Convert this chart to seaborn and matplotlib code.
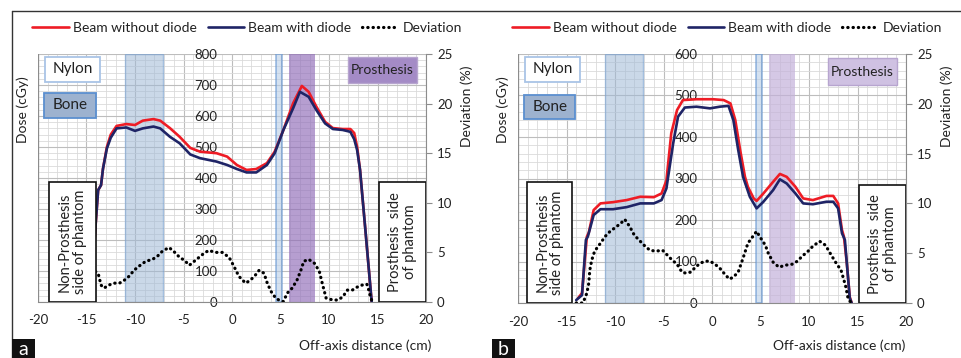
import numpy as np
import pandas as pd
import matplotlib
matplotlib.use("Agg")
import matplotlib.pyplot as plt
import seaborn as sns
from matplotlib.patches import Rectangle
from matplotlib.lines import Line2D
from matplotlib.ticker import MultipleLocator
from matplotlib import font_manager

# ---------------- data ----------------
# Panel a
a_red_x = [-14.6, -14.1, -13.8, -13.5, -13.3, -12.9, -12.5, -11.9, -10.9, -10.0, -9.2, -8.1, -7.4, -6.4,
           -5.4, -4.3, -3.3, -1.6, -0.5, 0.5, 1.5, 2.5, 3.6, 4.4, 5.3, 6.3, 7.2, 7.9, 8.7, 9.6, 10.4,
           11.4, 12.2, 12.6, 12.9, 13.2, 13.8, 14.4]
a_red_y = [0, 232, 361, 377, 430, 500, 540, 568, 574, 571, 585, 590, 585, 561,
           533, 497, 485, 480, 469, 442, 426, 429, 448, 485, 555, 641, 697, 678, 630, 581, 561,
           558, 558, 545, 500, 426, 215, 0]
a_blue_x = [-14.6, -14.1, -13.8, -13.5, -13.3, -12.9, -12.5, -11.9, -10.9, -10.0, -9.2, -8.1, -7.4, -6.4,
            -5.4, -4.3, -3.3, -1.6, -0.5, 0.5, 1.5, 2.5, 3.6, 4.4, 5.3, 6.3, 7.0, 7.9, 8.7, 9.6, 10.4,
            11.4, 12.2, 12.6, 12.9, 13.2, 13.8, 14.4]
a_blue_y = [0, 232, 361, 377, 430, 495, 530, 560, 563, 552, 560, 566, 560, 533,
            512, 476, 464, 453, 442, 429, 418, 418, 442, 480, 555, 625, 678, 662, 619, 576, 558,
            555, 549, 525, 490, 426, 215, 0]
a_dev_x = [-14.6, -14.4, -14.3, -14.1, -13.8, -13.5, -13.2, -12.7, -12.2, -11.6, -11.1, -10.6, -10.1, -9.6,
           -8.9, -8.2, -7.7, -7.2, -6.5, -6.0, -5.4, -4.9, -4.4, -3.9, -3.4, -2.9, -2.4, -1.7, -1.0,
           -0.3, 0.2, 0.7, 1.4, 1.9, 2.4, 2.8, 3.3, 3.6, 4.0, 4.5, 5.0, 5.3, 5.7, 6.2, 6.7, 7.1, 7.4,
           7.9, 8.5, 9.0, 9.3, 9.7, 10.4, 10.9, 11.4, 11.9, 12.4, 12.9, 13.4, 13.9, 14.1, 14.3, 14.5]
a_dev_y = [0.0, 1.5, 2.6, 3.1, 2.9, 1.7, 1.4, 1.7, 1.9, 1.9, 2.2, 2.6, 3.2, 3.6,
           4.1, 4.3, 4.6, 5.1, 5.5, 5.1, 4.5, 4.2, 3.7, 4.1, 4.5, 4.9, 5.2, 5.0, 5.0,
           4.5, 3.6, 2.6, 1.9, 2.2, 2.7, 3.2, 2.9, 2.0, 1.1, 0.4, 0.1, 0.05, 0.9, 1.4, 2.2, 3.2, 4.1,
           4.3, 3.9, 3.1, 1.9, 0.4, 0.2, 0.2, 0.5, 1.2, 1.2, 1.5, 1.7, 1.8, 1.2, 0.4, 0.0]

# Panel b
b_red_x = [-13.8, -13.4, -12.9, -12.7, -12.2, -11.5, -10.2, -8.8, -7.4, -6.0, -5.2, -4.7, -4.2, -3.6,
           -3.0, -1.6, 0.1, 1.2, 1.9, 2.4, 2.9, 3.4, 3.7, 4.3, 4.6, 5.3, 6.3, 7.0, 7.7, 8.6, 9.4,
           10.4, 11.8, 12.5, 13.0, 13.4, 13.6, 13.9, 14.2, 14.4]
b_red_y = [12, 24, 160, 170, 224, 240, 243, 248, 256, 255, 264, 295, 409, 465,
           489, 491, 491, 489, 481, 441, 369, 304, 280, 252, 246, 264, 292, 311, 304, 280, 252,
           248, 258, 258, 240, 176, 160, 96, 15, 0]
b_blue_x = [-14.0, -13.4, -13.0, -12.8, -12.2, -11.5, -10.2, -8.8, -7.4, -6.0, -5.2, -4.7, -4.0, -3.5,
            -2.8, -1.6, -0.2, 0.8, 1.7, 2.2, 2.7, 3.2, 3.9, 4.6, 5.3, 6.3, 7.0, 7.7, 8.6, 9.4,
            10.4, 11.8, 12.5, 13.0, 13.4, 13.7, 13.9, 14.2, 14.4]
b_blue_y = [7, 19, 152, 160, 212, 226, 226, 231, 240, 240, 248, 276, 385, 449,
            471, 473, 469, 473, 475, 441, 369, 304, 256, 228, 244, 272, 298, 288, 264, 240,
            238, 244, 244, 228, 168, 152, 96, 12, 0]
b_dev_x = [-14.0, -13.3, -12.9, -12.7, -12.6, -12.4, -12.1, -11.5, -11.0, -10.5, -9.8, -9.3, -9.0, -8.5,
           -8.0, -7.4, -6.9, -6.4, -5.8, -5.1, -4.6, -4.1, -3.6, -3.1, -2.7, -2.2, -1.7, -1.2, -0.7,
           -0.2, 0.3, 0.8, 1.4, 1.8, 2.2, 2.7, 3.2, 3.7, 4.3, 4.6, 4.9, 5.5, 5.8, 6.3, 6.9, 7.6, 8.3,
           8.8, 9.3, 9.9, 10.4, 11.1, 11.7, 12.3, 12.8, 13.3, 13.6, 13.8, 14.0, 14.2, 14.4]
b_dev_y = [0.0, 0.0, 1.0, 2.0, 3.3, 4.3, 5.2, 6.0, 6.7, 7.2, 7.7, 8.1, 8.4, 7.7,
           6.8, 6.2, 5.7, 5.3, 5.2, 5.3, 4.8, 4.3, 3.9, 3.1, 3.0, 3.1, 3.6, 4.0, 4.2,
           4.2, 3.9, 3.5, 2.8, 2.4, 2.6, 3.1, 4.5, 6.0, 6.8, 7.2, 6.7, 5.8, 5.0, 4.1, 3.6, 3.8, 3.9,
           4.2, 4.7, 5.2, 5.7, 6.2, 5.8, 4.8, 4.0, 3.3, 2.3, 1.6, 0.6, 0.2, 0.0]

series_labels = ["Beam without diode", "Beam with diode", "Deviation"]
x_ticks = [-20, -15, -10, -5, 0, 5, 10, 15, 20]
dev_ticks = [0, 5, 10, 15, 20, 25]
dose_max = {"a": 800, "b": 600}

# ---------------- styling ----------------
sns.set_style("white")
plt.rcParams["font.family"] = ["Lato", "DejaVu Sans"]
installed = {f.name for f in font_manager.fontManager.ttflist}
NARROW = ["Liberation Sans Narrow", "Lato"] if "Liberation Sans Narrow" in installed else ["Lato"]

RED = "#ee1c25"
NAVY = "#1f2466"
TXT = "#222222"
FS = 9.5       # tick labels
FL = 10        # axis labels
FLEG = 10      # legend

fig = plt.figure(figsize=(9.61, 3.58), dpi=100)

panels = {
    "a": dict(rect=[38 / 961, 1 - 302 / 358, 388 / 961, 248 / 358],
              red=(a_red_x, a_red_y), blue=(a_blue_x, a_blue_y), dev=(a_dev_x, a_dev_y),
              purple="#8f6bb8", purple_alpha=0.65, pbox="#a48bc6",
              nylon=(-19.28, 710, 5.7, 80), bone=(-19.4, 594, 5.4, 80), pros=(11.96, 706, 7.1, 84),
              lbox=(-18.87, 0, 4.82, 387), rbox=(15.15, 0, 4.85, 387),
              xlab=(0.843, -0.152), tag_x=12),
    "b": dict(rect=[518 / 961, 1 - 303 / 358, 388 / 961, 249 / 358],
              red=(b_red_x, b_red_y), blue=(b_blue_x, b_blue_y), dev=(b_dev_x, b_dev_y),
              purple="#c4b1da", purple_alpha=0.7, pbox="#cfc1e2",
              nylon=(-19.28, 533, 5.7, 60), bone=(-19.35, 443, 5.25, 58), pros=(12.0, 525, 7.04, 65),
              lbox=(-19.07, 0, 4.64, 292), rbox=(15.15, 0, 4.85, 284),
              xlab=(0.827, -0.148), tag_x=492),
}

for key, p in panels.items():
    ax = fig.add_axes(p["rect"])
    ymax = dose_max[key]
    ax.set_xlim(-20, 20)
    ax.set_ylim(0, ymax)
    ax.set_axisbelow(True)

    # grid
    ax.xaxis.set_major_locator(MultipleLocator(5))
    ax.xaxis.set_minor_locator(MultipleLocator(1))
    ax.yaxis.set_major_locator(MultipleLocator(100))
    ax.yaxis.set_minor_locator(MultipleLocator(20))
    ax.grid(which="major", color="#bdbdbd", linewidth=0.8)
    ax.grid(which="minor", color="#dadada", linewidth=0.6)

    # shaded material regions
    ax.axvspan(-11.0, -7.15, facecolor="#9fb8d6", alpha=0.55, edgecolor="#6f9bd0", linewidth=1.0, zorder=1)
    ax.axvspan(4.5, 5.2, facecolor="#b8cde6", alpha=0.6, edgecolor="#5b8fcf", linewidth=1.2, zorder=1)
    ax.axvspan(5.9, 8.6, facecolor=p["purple"], alpha=p["purple_alpha"], edgecolor="none", zorder=1)

    # dose curves
    sns.lineplot(x=p["red"][0], y=p["red"][1], ax=ax, color=RED, linewidth=1.9, sort=False, zorder=3)
    sns.lineplot(x=p["blue"][0], y=p["blue"][1], ax=ax, color=NAVY, linewidth=1.9, sort=False, zorder=4)

    # spines / ticks of dose axis (Excel style, axis crossing at x = 0)
    for s in ["top", "right"]:
        ax.spines[s].set_visible(False)
    ax.spines["left"].set_position(("data", 0))
    ax.spines["left"].set_visible(False)
    ax.spines["bottom"].set_color("#8c8c8c")
    ax.tick_params(axis="y", which="both", length=0, pad=10.5, labelsize=FS, labelcolor=TXT)
    ax.tick_params(axis="x", which="major", length=4, color="#8c8c8c", pad=5, labelsize=FS, labelcolor=TXT)
    ax.tick_params(axis="x", which="minor", length=0)
    ax.set_xticks(x_ticks)
    ax.set_xticklabels([str(v) for v in x_ticks])
    ax.set_yticks(list(range(0, ymax + 1, 100)))
    ax.set_ylabel("Dose (cGy)", fontsize=FL, color=TXT)
    ax.yaxis.set_label_coords(-0.022, 0.775)
    ax.set_xlabel("Off-axis distance (cm)", fontsize=FL, color=TXT)
    ax.xaxis.set_label_coords(*p["xlab"])

    # left border line of the plot area
    ax.axvline(-20, color="#8c8c8c", linewidth=0.9, zorder=2)

    # deviation on secondary axis
    ax2 = ax.twinx()
    ax2.set_ylim(0, 25)
    sns.lineplot(x=p["dev"][0], y=p["dev"][1], ax=ax2, color="black", linewidth=2.3,
                 linestyle=(0, (0.1, 1.55)), dash_capstyle="round", sort=False)
    ax2.set_yticks(dev_ticks)
    ax2.set_yticklabels([str(v) for v in dev_ticks])
    ax2.tick_params(axis="y", length=4, color="#8c8c8c", pad=4, labelsize=FS, labelcolor=TXT)
    for s in ["top", "left", "bottom"]:
        ax2.spines[s].set_visible(False)
    ax2.spines["right"].set_color("#8c8c8c")
    ax2.set_ylabel("Deviation (%)", fontsize=FL, color=TXT)
    ax2.yaxis.set_label_coords(1.088, 0.79)
    ax2.grid(False)

    # material legend boxes (in dose coordinates)
    def box(rect, fc, ec, text, lw=1.2, size=11):
        x0, y0, w, h = rect
        ax2.add_patch(Rectangle((x0, y0 * 25 / ymax), w, h * 25 / ymax, facecolor=fc, edgecolor=ec,
                                linewidth=lw, zorder=6))
        ax2.text(x0 + w / 2, (y0 + h / 2) * 25 / ymax, text, ha="center", va="center",
                 fontsize=size, color=TXT, zorder=7, family=NARROW)

    box(p["nylon"], "white", "#a9c4e6", "Nylon", lw=1.3, size=11)
    box(p["bone"], "#9db2cf", "#5b8fcf", "Bone", lw=1.3, size=11)
    box(p["pros"], p["pbox"], "#b7a5cf", "Prosthesis", lw=1.0, size=10)

    for rect, text in [(p["lbox"], "Non-Prosthesis\nside of phantom"),
                       (p["rbox"], "Prosthesis  side\nof phantom")]:
        x0, y0, w, h = rect
        ax2.add_patch(Rectangle((x0, y0 * 25 / ymax), w, h * 25 / ymax, facecolor="white",
                                edgecolor="#111111", linewidth=1.2, zorder=5))
        ax2.text(x0 + w / 2, (y0 + h / 2) * 25 / ymax, text, ha="center", va="center", rotation=90,
                 fontsize=10.5, color=TXT, zorder=7, linespacing=1.05)

    # series legend
    handles = [Line2D([], [], color=RED, linewidth=1.9),
               Line2D([], [], color=NAVY, linewidth=1.9),
               Line2D([], [], color="black", linewidth=2.3, linestyle=(0, (0.1, 1.55)), dash_capstyle="round")]
    ax.legend(handles, series_labels, loc="center", bbox_to_anchor=(0.539, 1.105), ncol=3, frameon=False,
              handlelength=2.6, handletextpad=0.3, columnspacing=0.8, fontsize=FLEG,
              labelcolor=TXT, borderaxespad=0)

    # panel tag
    fig.patches.append(Rectangle((p["tag_x"] / 961, 0), 23 / 961, 19 / 358, transform=fig.transFigure,
                                 facecolor="#111111", edgecolor="none", zorder=10))
    fig.text((p["tag_x"] + 11.5) / 961, 8.5 / 358, key, ha="center", va="center", color="white",
             fontsize=14, zorder=11)

# frame lines of the figure
fig.add_artist(Line2D([12 / 961, 1], [1 - 11 / 358, 1 - 11 / 358], transform=fig.transFigure,
                      color="#333333", linewidth=1.0))
fig.add_artist(Line2D([12 / 961, 12 / 961], [0, 1 - 11 / 358], transform=fig.transFigure,
                      color="#333333", linewidth=1.0))

fig.savefig("out.png", dpi=100, facecolor="white")
